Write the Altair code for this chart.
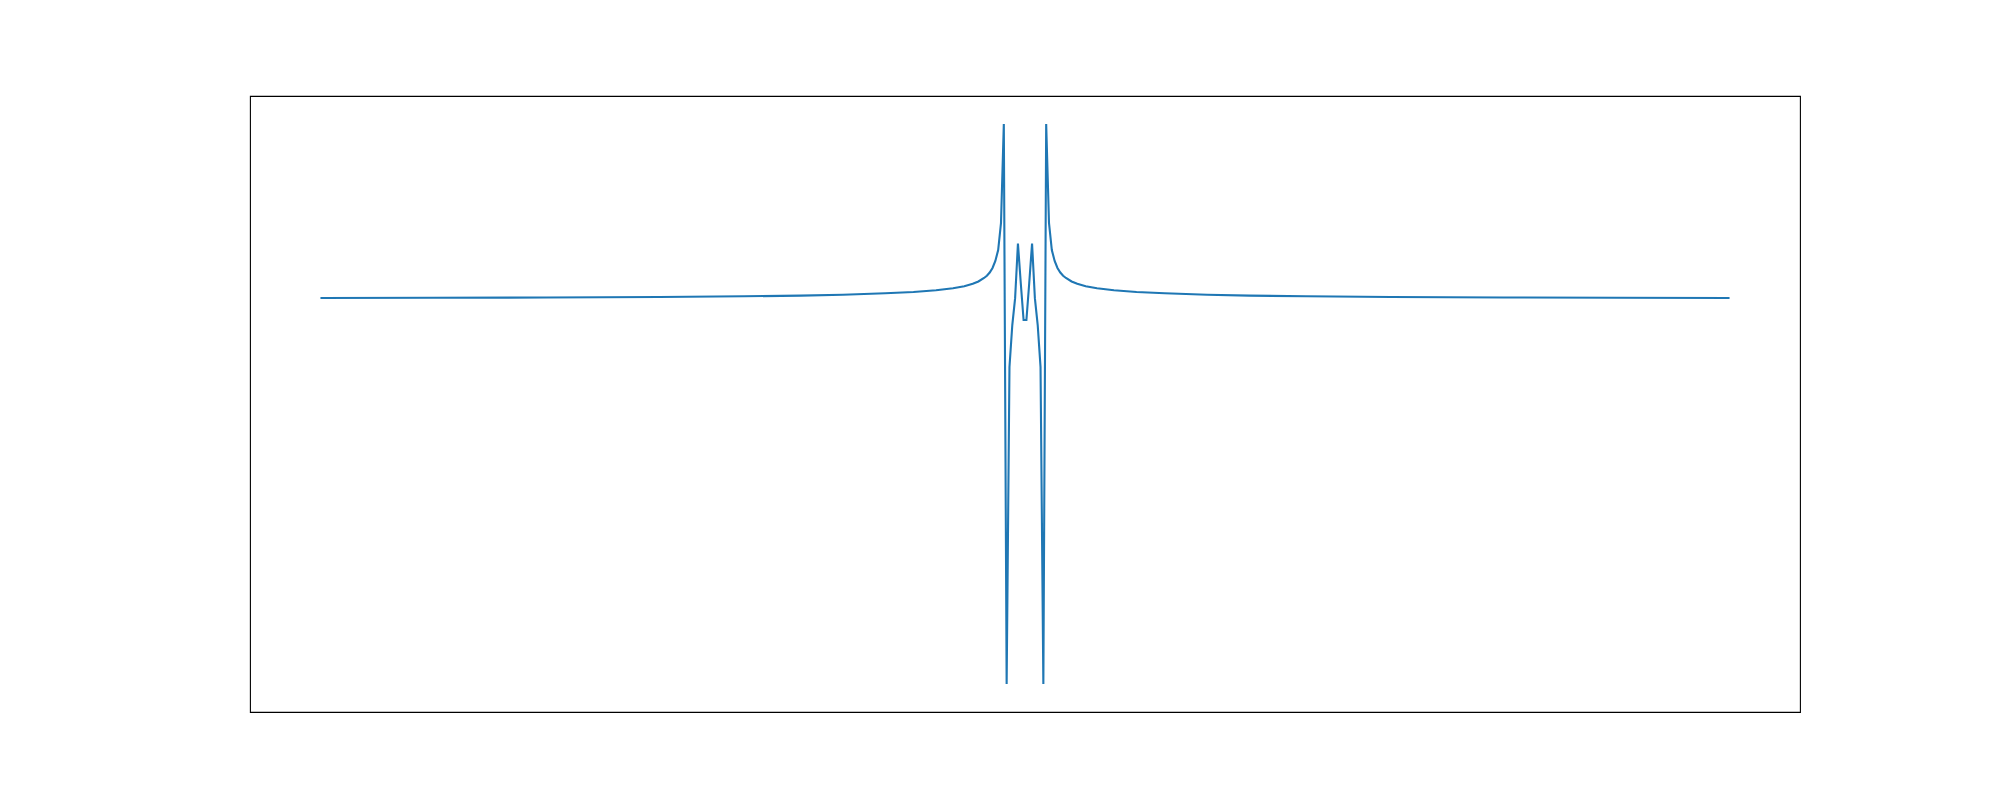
import altair as alt
import pandas as pd

# sample index (0..499) and value, left half; the curve is mirror-symmetric
left_idx = [0, 40, 80, 120, 150, 170, 185, 200, 210, 218, 224, 228, 231, 233, 235, 236, 237,
            238, 239, 240, 241, 242,
            243, 244, 245, 246, 247, 248, 249]
left_val = [0.6893, 0.6896, 0.6902, 0.6911, 0.6923, 0.6936, 0.6950, 0.6977, 0.7000, 0.7030,
            0.7066, 0.7102, 0.7146, 0.7188, 0.7250, 0.7291, 0.7348,
            0.7429, 0.7554, 0.7750, 0.8232, 1.0,
            0.0, 0.566, 0.641, 0.689, 0.7866, 0.716, 0.65]
N = 500

xs = left_idx + [N - 1 - i for i in reversed(left_idx)]
ys = left_val + list(reversed(left_val))
df = pd.DataFrame({"x": xs, "y": ys})

xmin, xmax = 0, N - 1
xpad = 0.05 * (xmax - xmin)
ypad = 0.05

chart = alt.Chart(df).mark_line(color="#1f77b4", strokeWidth=2.1).encode(
    x=alt.X("x:Q", axis=None, scale=alt.Scale(domain=[xmin - xpad, xmax + xpad], nice=False, zero=False)),
    y=alt.Y("y:Q", axis=None, scale=alt.Scale(domain=[0 - ypad, 1 + ypad], nice=False, zero=False)),
    order="x:Q",
).properties(
    width=1550,
    height=616,
    autosize="none",
    padding={"left": 250, "top": 96, "right": 200, "bottom": 88},
).configure_view(stroke="black", strokeWidth=1.1, strokeOpacity=1)

chart.save("out.html", embed_options={"renderer": "svg", "actions": False})
